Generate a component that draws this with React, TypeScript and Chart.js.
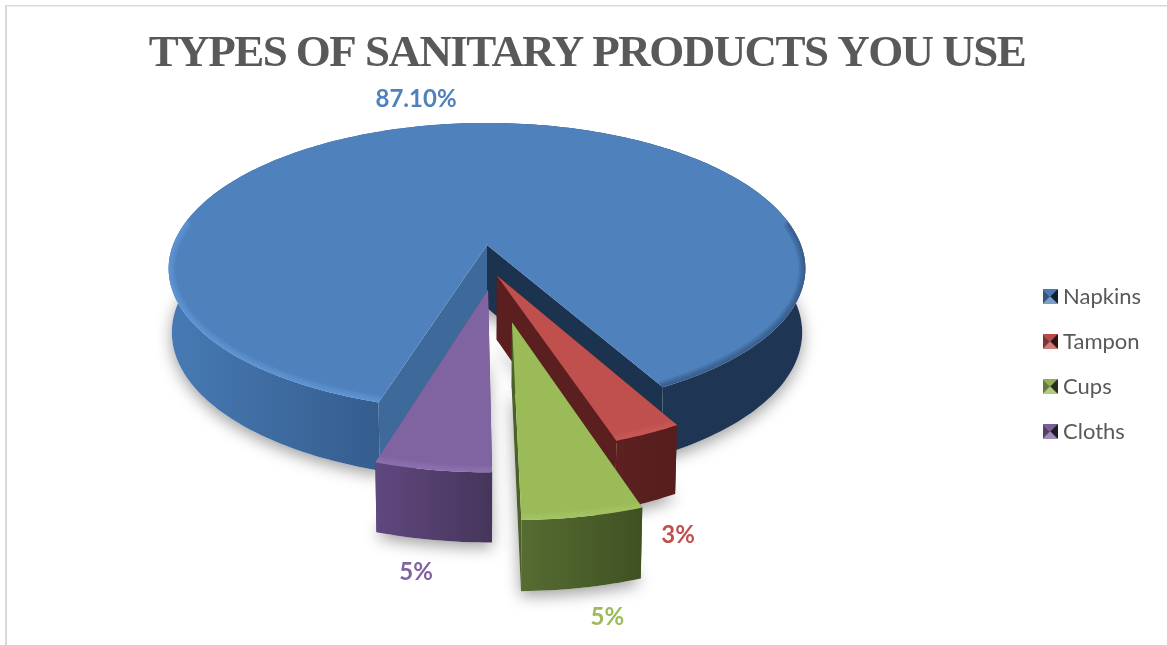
import React, { useEffect, useRef } from "react";
import { Chart, registerables } from "chart.js";

Chart.register(...registerables);

const chartTitle = "TYPES OF SANITARY PRODUCTS YOU USE";
const categories = ["Napkins", "Tampon", "Cups", "Cloths"];
const shares = [87.1, 3, 5, 5];
const shareLabels = ["87.10%", "3%", "5%", "5%"];
const faceColors = ["#4f81bd", "#c0504d", "#9bbb59", "#8064a2"];
const labelColors = ["#4f81bd", "#c0504d", "#9bbb59", "#8064a2"];
const rimColors = ["#6fa9e8", "#d0625f", "#aecb6c", "#9a7cbd"];
const cutWallColors = ["#3d6a9a", "#5a1f1e", "#4c6129", "#5a4373"];
const wallStops = [
  [[0, "#477ab4"], [0.33, "#355d8e"], [0.78, "#1e3553"], [1, "#1e3553"]],
  [[0, "#5c2120"], [1, "#561d1c"]],
  [[0, "#566c32"], [1, "#3f5122"]],
  [[0, "#604880"], [1, "#46355a"]],
];
// How far each slice is pulled out of the pie, and its radius, in pie radii.
const explode = [0.184, 0.025, 0.317, 0.116];
const sliceRadius = [1, 0.955, 0.955, 0.955];
// Label shift from the outer foot of each slice, in pixels.
const labelShift = [[-43, -24], [32, 33], [25, 30], [-17, 32]];
// Back-to-front painting order of the slices.
const paintOrder = [0, 1, 3, 2];

// Tilted-plane projection used for the 3D look.
const view = { cx: 487, cy: 245, f: 314, g: 142.8, k: 0.17, depth: 63, depthGrow: 0.09, taper: 0.99, frontTrim: 0.03 };
const pivot = { u: 0.02, v: 0.183 };

type P = { x: number; y: number };

const top = (u: number, v: number): P => {
  const w = 1 - view.k * v;
  return { x: view.cx + (view.f * u) / w, y: view.cy + (view.g * v) / w };
};
const foot = (u: number, v: number): P => {
  const p = top(u, v);
  return {
    x: view.cx + (p.x - view.cx) * view.taper,
    y: p.y + view.depth * (1 + view.depthGrow * v),
  };
};

type Geometry = {
  apex: { u: number; v: number };
  rim: { u: number; v: number; a: number }[];
  mid: { u: number; v: number };
};

function sliceGeometry(arc: any, i: number): Geometry {
  const { startAngle, endAngle } = arc.getProps(["startAngle", "endAngle"], true);
  const midAngle = (startAngle + endAngle) / 2;
  const apex = {
    u: pivot.u + explode[i] * Math.cos(midAngle),
    v: pivot.v + explode[i] * Math.sin(midAngle),
  };
  if (i === 0) {
    apex.u = 0;
    apex.v = 0;
  }
  const steps = Math.max(8, Math.ceil((endAngle - startAngle) / 0.02));
  const rim = [];
  for (let s = 0; s <= steps; s++) {
    const a = startAngle + ((endAngle - startAngle) * s) / steps;
    const front = Math.max(0, Math.sin(a));
    const r = i === 0 ? sliceRadius[i] - view.frontTrim * front * front : sliceRadius[i];
    rim.push({ u: apex.u + r * Math.cos(a), v: apex.v + r * Math.sin(a), a });
  }
  const mid = {
    u: apex.u + sliceRadius[i] * Math.cos(midAngle),
    v: apex.v + sliceRadius[i] * Math.sin(midAngle),
  };
  return { apex, rim, mid };
}

function polygon(ctx: CanvasRenderingContext2D, pts: P[]) {
  ctx.beginPath();
  pts.forEach((p, n) => (n ? ctx.lineTo(p.x, p.y) : ctx.moveTo(p.x, p.y)));
  ctx.closePath();
}

function drawSlice(ctx: CanvasRenderingContext2D, g: Geometry, i: number) {
  const topRim = g.rim.map((r) => top(r.u, r.v));
  const footRim = g.rim.map((r) => foot(r.u, r.v));
  const apexTop = top(g.apex.u, g.apex.v);
  const apexFoot = foot(g.apex.u, g.apex.v);

  const xs = topRim.map((p) => p.x);
  const wall = ctx.createLinearGradient(Math.min(...xs), 0, Math.max(...xs), 0);
  wallStops[i].forEach(([o, c]) => wall.addColorStop(o as number, c as string));

  // Walls of the two straight cuts
  ctx.fillStyle = i === 0 ? "#1c3350" : cutWallColors[i];
  polygon(ctx, [apexTop, topRim[topRim.length - 1], footRim[footRim.length - 1], apexFoot]);
  ctx.fill();
  ctx.fillStyle = cutWallColors[i];
  polygon(ctx, [apexTop, topRim[0], footRim[0], apexFoot]);
  ctx.fill();

  // Outer wall
  ctx.fillStyle = wall;
  polygon(ctx, [...topRim, ...[...footRim].reverse()]);
  ctx.fill();

  // Top face
  ctx.fillStyle = faceColors[i];
  polygon(ctx, [apexTop, ...topRim]);
  ctx.fill();

  // Soft bevel along the front of the rim
  ctx.save();
  polygon(ctx, [apexTop, ...topRim]);
  ctx.clip();
  const bevel = ctx.createLinearGradient(Math.min(...xs), 0, Math.max(...xs), 0);
  if (i === 0) {
    bevel.addColorStop(0, rimColors[0]);
    bevel.addColorStop(0.34, rimColors[0]);
    bevel.addColorStop(0.62, "#1e3553");
    bevel.addColorStop(1, "#1e3553");
  } else {
    bevel.addColorStop(0, rimColors[i]);
    bevel.addColorStop(1, rimColors[i]);
  }
  ctx.strokeStyle = bevel;
  ctx.lineCap = "round";
  ctx.beginPath();
  let open = false;
  g.rim.forEach((r) => {
    const p = top(r.u, r.v);
    if (Math.sin(r.a) > -0.15) {
      if (open) ctx.lineTo(p.x, p.y);
      else ctx.moveTo(p.x, p.y);
      open = true;
    } else {
      open = false;
    }
  });
  [13, 9, 5].forEach((w) => {
    ctx.lineWidth = w;
    ctx.globalAlpha = 0.17;
    ctx.stroke();
  });
  ctx.restore();
}

const pie3d = {
  id: "pie3d",
  beforeDraw(chart: any) {
    const { ctx, width, height } = chart;
    ctx.save();
    ctx.fillStyle = "#ffffff";
    ctx.fillRect(0, 0, width, height);
    ctx.fillStyle = "#d9d9d9";
    ctx.fillRect(5, 5, width - 5, 1.5);
    ctx.fillRect(5, 5, 2, height - 5);
    ctx.restore();
  },
  afterLayout(chart: any) {
    // The legend sits lower and further in than the default right-hand placement.
    const drop = 28;
    const pull = 13;
    chart.legend.top += drop;
    chart.legend.bottom += drop;
    chart.legend.left -= pull;
    chart.legend.right -= pull;
    // The heading is set tight.
    const title = chart.titleBlock;
    if (!title.__tightened) {
      const draw = title.draw;
      title.draw = function () {
        const c = this.ctx;
        c.save();
        c.letterSpacing = "-1.55px";
        draw.call(this);
        c.restore();
      };
      title.__tightened = true;
    }
  },
  beforeDatasetsDraw(chart: any) {
    const { ctx } = chart;
    const arcs = chart.getDatasetMeta(0).data;
    const geo = arcs.map((a: any, i: number) => sliceGeometry(a, i));

    // Ground shadow first, so that no slice receives another's shadow.
    ctx.save();
    ctx.shadowColor = "rgba(0,0,0,0.38)";
    ctx.shadowBlur = 16;
    ctx.shadowOffsetY = 5;
    ctx.fillStyle = "#ffffff";
    geo.forEach((g: Geometry) => {
      polygon(ctx, [foot(g.apex.u, g.apex.v), ...g.rim.map((r) => foot(r.u, r.v))]);
      ctx.fill();
    });
    ctx.restore();

    paintOrder.forEach((i) => {
      ctx.save();
      drawSlice(ctx, geo[i], i);
      ctx.restore();
    });
    return false;
  },
  afterDraw(chart: any) {
    const { ctx } = chart;
    const arcs = chart.getDatasetMeta(0).data;
    ctx.save();
    ctx.font = "bold 24px Lato";
    ctx.textAlign = "center";
    ctx.textBaseline = "middle";
    arcs.forEach((a: any, i: number) => {
      const g = sliceGeometry(a, i);
      const anchor = i === 0 ? top(g.mid.u, g.mid.v) : foot(g.mid.u, g.mid.v);
      ctx.fillStyle = labelColors[i];
      ctx.fillText(shareLabels[i], anchor.x + labelShift[i][0], anchor.y + labelShift[i][1]);
    });
    ctx.restore();
  },
};

function bevelSwatch(color: string): HTMLCanvasElement {
  const s = 15;
  const c = document.createElement("canvas");
  c.width = s;
  c.height = s;
  const x = c.getContext("2d") as CanvasRenderingContext2D;
  const tri = (ax: number, ay: number, bx: number, by: number, fill: string, alpha: number) => {
    x.fillStyle = color;
    x.globalAlpha = 1;
    x.beginPath();
    x.moveTo(ax, ay);
    x.lineTo(bx, by);
    x.lineTo(s / 2, s / 2);
    x.closePath();
    x.fill();
    x.fillStyle = fill;
    x.globalAlpha = alpha;
    x.fill();
  };
  tri(0, 0, s, 0, "#000000", 0.05);
  tri(s, 0, s, s, "#000000", 0.75);
  tri(s, s, 0, s, "#ffffff", 0.25);
  tri(0, s, 0, 0, "#000000", 0.35);
  return c;
}

export default function App() {
  const ref = useRef<HTMLCanvasElement>(null);

  useEffect(() => {
    if (!ref.current) return;
    const chart = new Chart(ref.current, {
      type: "pie",
      data: {
        labels: categories,
        datasets: [{ data: shares, backgroundColor: faceColors, borderWidth: 0 }],
      },
      options: {
        responsive: false,
        animation: false,
        rotation: 197.4,
        layout: { padding: { left: 10, top: 27, right: 3, bottom: 0 } },
        plugins: {
          tooltip: { enabled: false },
          title: {
            display: true,
            text: chartTitle,
            color: "#595959",
            font: { family: "Liberation Serif", size: 45, weight: "bold" },
            padding: { top: 0, bottom: 10 },
          },
          legend: {
            position: "right",
            labels: {
              color: "#595959",
              font: { family: "Lato", size: 22 },
              padding: 23,
              usePointStyle: true,
              boxWidth: 4,
              generateLabels: () =>
                categories.map((name, i) => ({
                  text: name,
                  pointStyle: bevelSwatch(faceColors[i]),
                  fontColor: "#595959",
                  datasetIndex: 0,
                  index: i,
                })),
            },
          },
        },
      },
      plugins: [pie3d],
    } as any);
    return () => chart.destroy();
  }, []);

  return (
    <canvas
      ref={ref}
      width={1167}
      height={645}
      style={{ position: "absolute", left: 0, top: 0, display: "block" }}
    />
  );
}
